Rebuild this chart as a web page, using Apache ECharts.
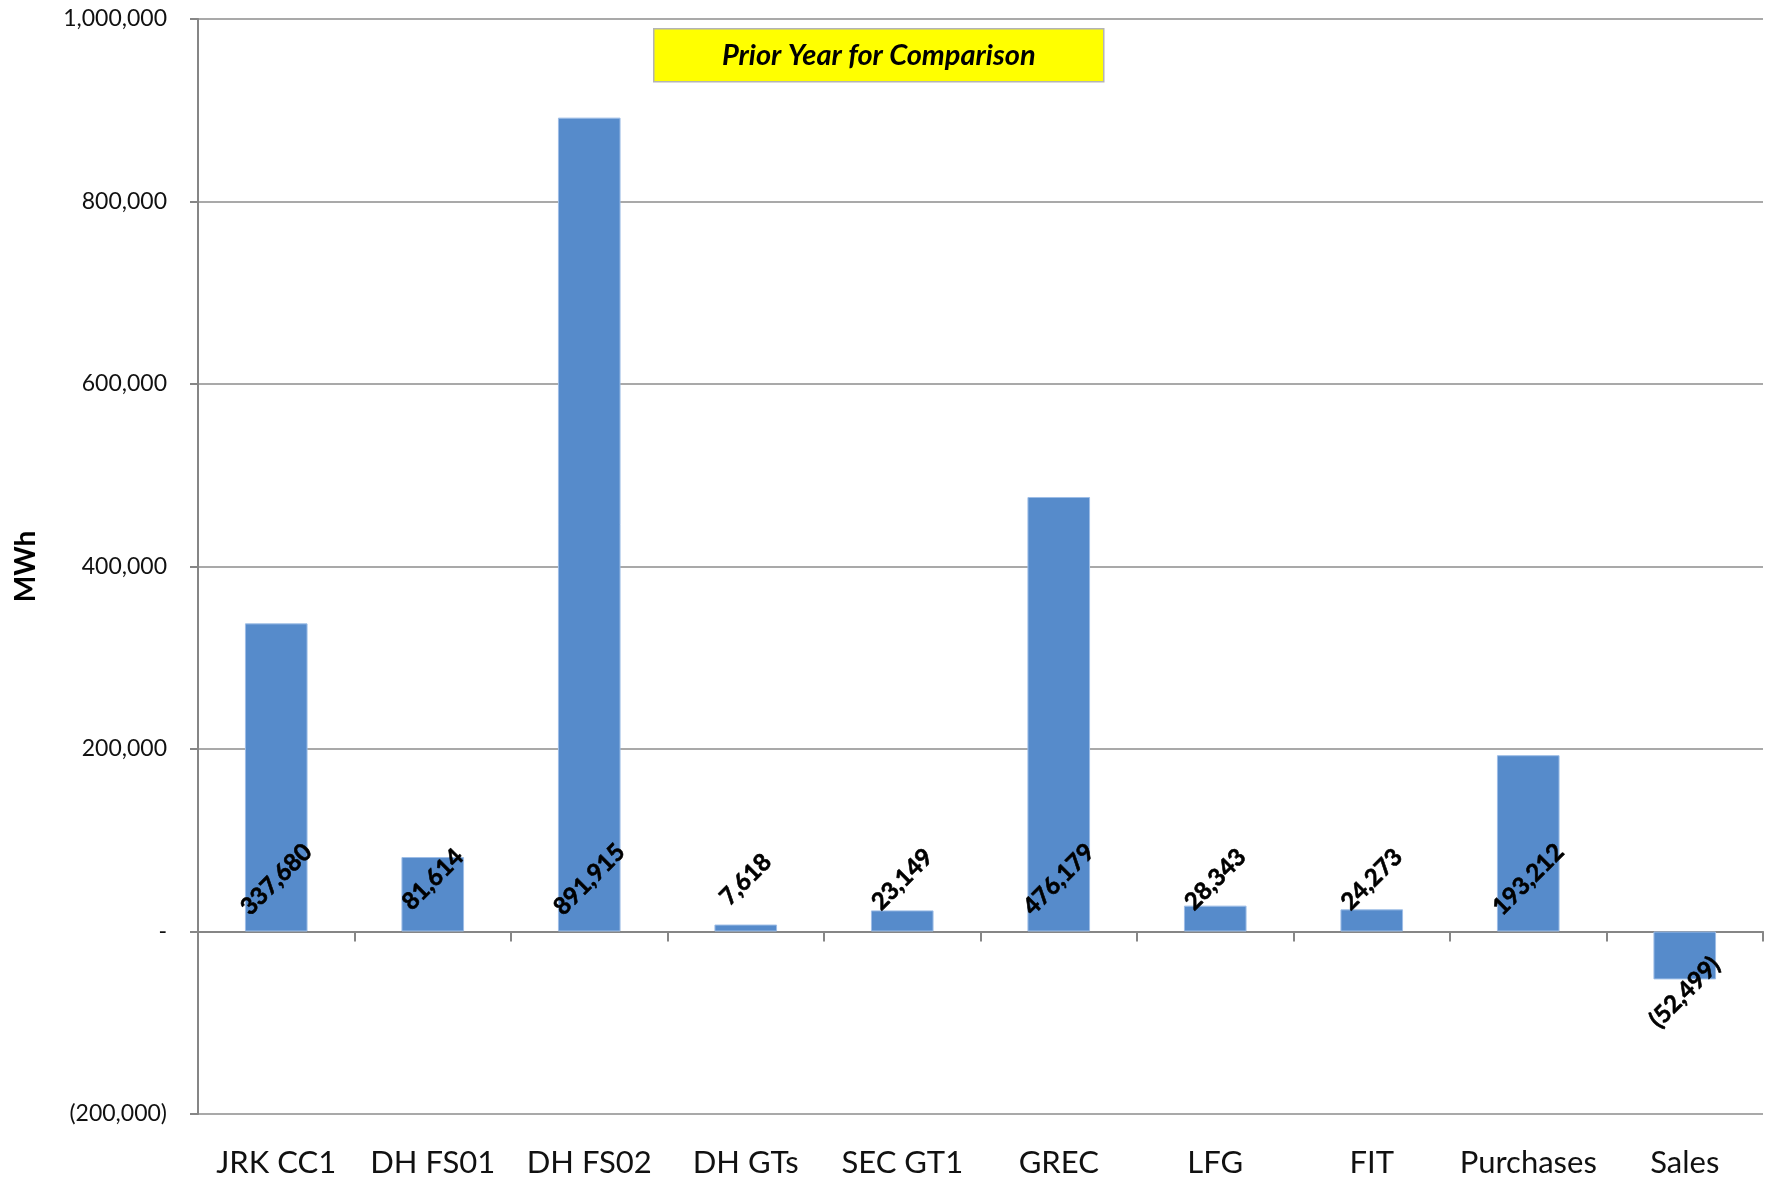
<!DOCTYPE html>
<html>
<head>
<meta charset="utf-8">
<title>Prior Year for Comparison</title>
<script src="https://cdn.jsdelivr.net/npm/echarts@6/dist/echarts.min.js"></script>
<style>
  html, body { margin: 0; padding: 0; background: #fff; }
  #chart { width: 1772px; height: 1183px; }
</style>
</head>
<body>
<div id="chart"></div>
<script>
// data
var categories = ['JRK CC1', 'DH FS01', 'DH FS02', 'DH GTs', 'SEC GT1', 'GREC', 'LFG', 'FIT', 'Purchases', 'Sales'];
var mwhValues = [337680, 81614, 891915, 7618, 23149, 476179, 28343, 24273, 193212, -52499];
var yTicks = [-200000, 0, 200000, 400000, 600000, 800000, 1000000];

var FONT = 'Lato, "Open Sans", sans-serif';

function fmt(v) {
  if (v === 0) return '-';
  var s = Math.abs(v).toLocaleString('en-US');
  return v < 0 ? '(' + s + ')' : s;
}

var chartDom = document.getElementById('chart');
var myChart = echarts.init(chartDom);

// negative bar gets its label below the end of the bar
var seriesData = mwhValues.map(function (v) {
  var item = { value: v };
  if (v < 0) {
    item.label = { position: 'bottom', distance: 13 };
  }
  return item;
});

var option = {
  animation: false,
  backgroundColor: '#ffffff',
  grid: { left: 198, right: 9, top: 19, bottom: 69, outerBoundsMode: 'none', containLabel: false },
  graphic: [
    {
      type: 'group',
      left: 653,
      top: 28,
      children: [
        {
          type: 'rect',
          shape: { x: 0, y: 0, width: 450, height: 53 },
          style: { fill: '#ffff00', stroke: '#b4b4b4', lineWidth: 1.5 }
        },
        {
          type: 'text',
          x: 225,
          y: 27,
          style: {
            text: 'Prior Year for Comparison',
            font: 'italic bold 29px ' + FONT,
            fill: '#000',
            align: 'center',
            verticalAlign: 'middle'
          }
        }
      ]
    }
  ],
  xAxis: [
    {
      type: 'category',
      data: categories,
      position: 'bottom',
      axisLine: { onZero: true, lineStyle: { color: '#868686', width: 2 } },
      axisTick: { show: true, length: 10, lineStyle: { color: '#868686', width: 2 } },
      axisLabel: { show: false },
      splitLine: { show: false }
    },
    {
      type: 'category',
      data: categories,
      position: 'bottom',
      axisLine: { show: false, onZero: false },
      axisTick: { show: false },
      axisLabel: { interval: 0, margin: 33, fontSize: 31, color: '#111', fontFamily: FONT }
    }
  ],
  yAxis: {
    type: 'value',
    min: yTicks[0],
    max: yTicks[yTicks.length - 1],
    interval: 200000,
    name: 'MWh',
    nameLocation: 'middle',
    nameGap: 158,
    nameTextStyle: { fontSize: 28, fontWeight: 'bold', color: '#000', fontFamily: FONT },
    axisLine: { show: true, lineStyle: { color: '#868686', width: 2 } },
    axisTick: { show: true, length: 8, lineStyle: { color: '#868686', width: 2 } },
    axisLabel: {
      margin: 31,
      fontSize: 23,
      color: '#111',
      fontFamily: FONT,
      formatter: fmt
    },
    splitLine: { show: true, lineStyle: { color: '#8c8c8c', width: 1.5 } }
  },
  series: [
    {
      type: 'bar',
      xAxisIndex: 0,
      data: seriesData,
      barCategoryGap: '60%',
      itemStyle: { color: '#568bcb', borderColor: '#9dbde6', borderWidth: 1 },
      label: {
        show: true,
        position: 'insideBottom',
        distance: 52,
        rotate: 45,
        align: 'center',
        verticalAlign: 'middle',
        fontSize: 24,
        fontWeight: 'bold',
        color: '#000',
        textBorderColor: '#000',
        textBorderWidth: 0.6,
        fontFamily: FONT,
        formatter: function (p) { return fmt(p.value); }
      }
    }
  ]
};

option && myChart.setOption(option);
</script>
</body>
</html>
